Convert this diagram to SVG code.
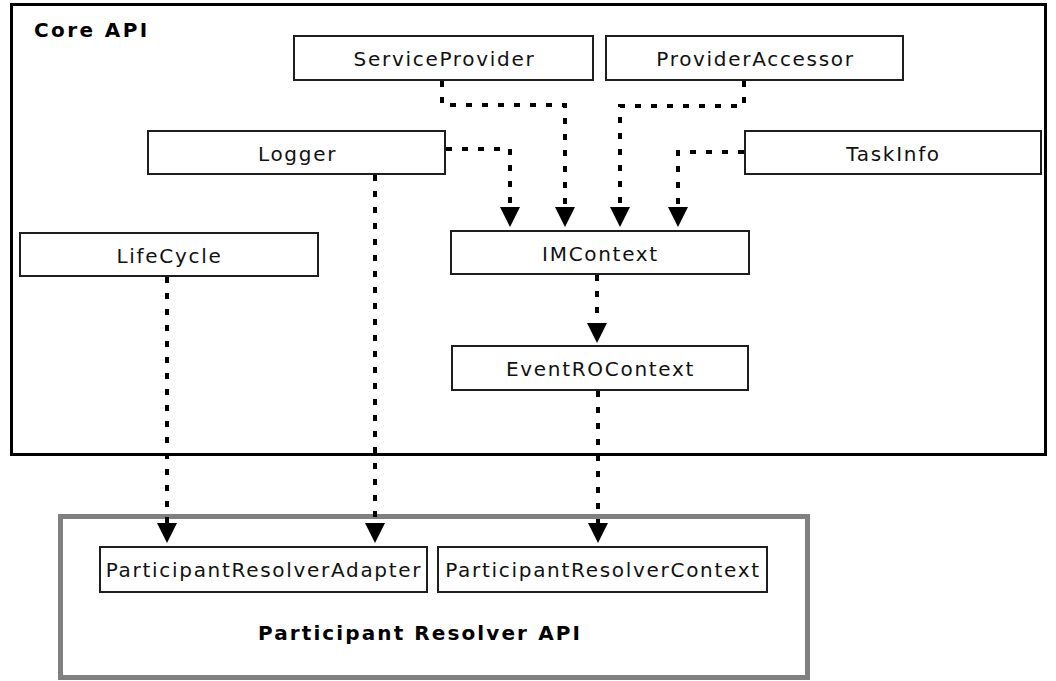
<svg xmlns="http://www.w3.org/2000/svg" xmlns:xlink="http://www.w3.org/1999/xlink" width="1056" height="681" viewBox="0 0 1056 681">
<style>
.node rect{fill:#fff;stroke:#1e1e1e;stroke-width:2}
.node text{font-family:"DejaVu Sans",Verdana,sans-serif;font-size:20px;letter-spacing:1.7px;fill:#111;text-anchor:middle}
.title{font-family:"DejaVu Sans",Verdana,sans-serif;font-size:20px;font-weight:bold;fill:#000}
.conn path{fill:none;stroke:#000;stroke-width:4;stroke-dasharray:6 10}
</style>
<defs>
<path id="ah" d="M-10,-20 L10,-20 L0,0 Z" fill="#000"/>
</defs>
<rect width="1056" height="681" fill="#fff"/>
<g id="core-api">
<rect x="11.5" y="4.5" width="1034" height="450" fill="none" stroke="#000" stroke-width="3"/>
<text class="title" x="34" y="36.5" style="letter-spacing:2.4px">Core API</text>
</g>
<g id="participant-resolver-api">
<rect x="60.5" y="516.5" width="747" height="161" fill="none" stroke="#808080" stroke-width="5"/>
<text class="title" x="420" y="640" text-anchor="middle" style="letter-spacing:2.1px">Participant Resolver API</text>
</g>
<g id="ServiceProvider" class="node"><rect x="294" y="36" width="299" height="44"/><text x="444.5" y="66">ServiceProvider</text></g>
<g id="ProviderAccessor" class="node"><rect x="606" y="36" width="297" height="44"/><text x="755.5" y="66">ProviderAccessor</text></g>
<g id="Logger" class="node"><rect x="148" y="131" width="297" height="43"/><text x="297.5" y="161">Logger</text></g>
<g id="TaskInfo" class="node"><rect x="745" y="131" width="296" height="43"/><text x="893.5" y="161">TaskInfo</text></g>
<g id="LifeCycle" class="node"><rect x="20" y="233" width="298" height="43"/><text x="169.5" y="263">LifeCycle</text></g>
<g id="IMContext" class="node"><rect x="451" y="231" width="298" height="43"/><text x="600.5" y="261">IMContext</text></g>
<g id="EventROContext" class="node"><rect x="452" y="346" width="296" height="44"/><text x="600.5" y="376">EventROContext</text></g>
<g id="ParticipantResolverAdapter" class="node"><rect x="100" y="547" width="327" height="45"/><text x="264" y="577">ParticipantResolverAdapter</text></g>
<g id="ParticipantResolverContext" class="node"><rect x="438" y="547" width="329" height="45"/><text x="603" y="577">ParticipantResolverContext</text></g>
<g id="connectors" class="conn">
<path d="M442,81 V105 H565 V207"/>
<path d="M744,81 V106 H620 V207"/>
<path d="M446,149 H510 V207"/>
<path d="M744,152 H678 V207"/>
<path d="M597,275 V323"/>
<path d="M167,277 V523"/>
<path d="M375,175 V523"/>
<path d="M598,391 V523"/>
<use xlink:href="#ah" x="565" y="227"/>
<use xlink:href="#ah" x="620" y="227"/>
<use xlink:href="#ah" x="510" y="227"/>
<use xlink:href="#ah" x="678" y="227"/>
<use xlink:href="#ah" x="597" y="343"/>
<use xlink:href="#ah" x="167" y="543"/>
<use xlink:href="#ah" x="375" y="543"/>
<use xlink:href="#ah" x="598" y="543"/>
</g>
</svg>
